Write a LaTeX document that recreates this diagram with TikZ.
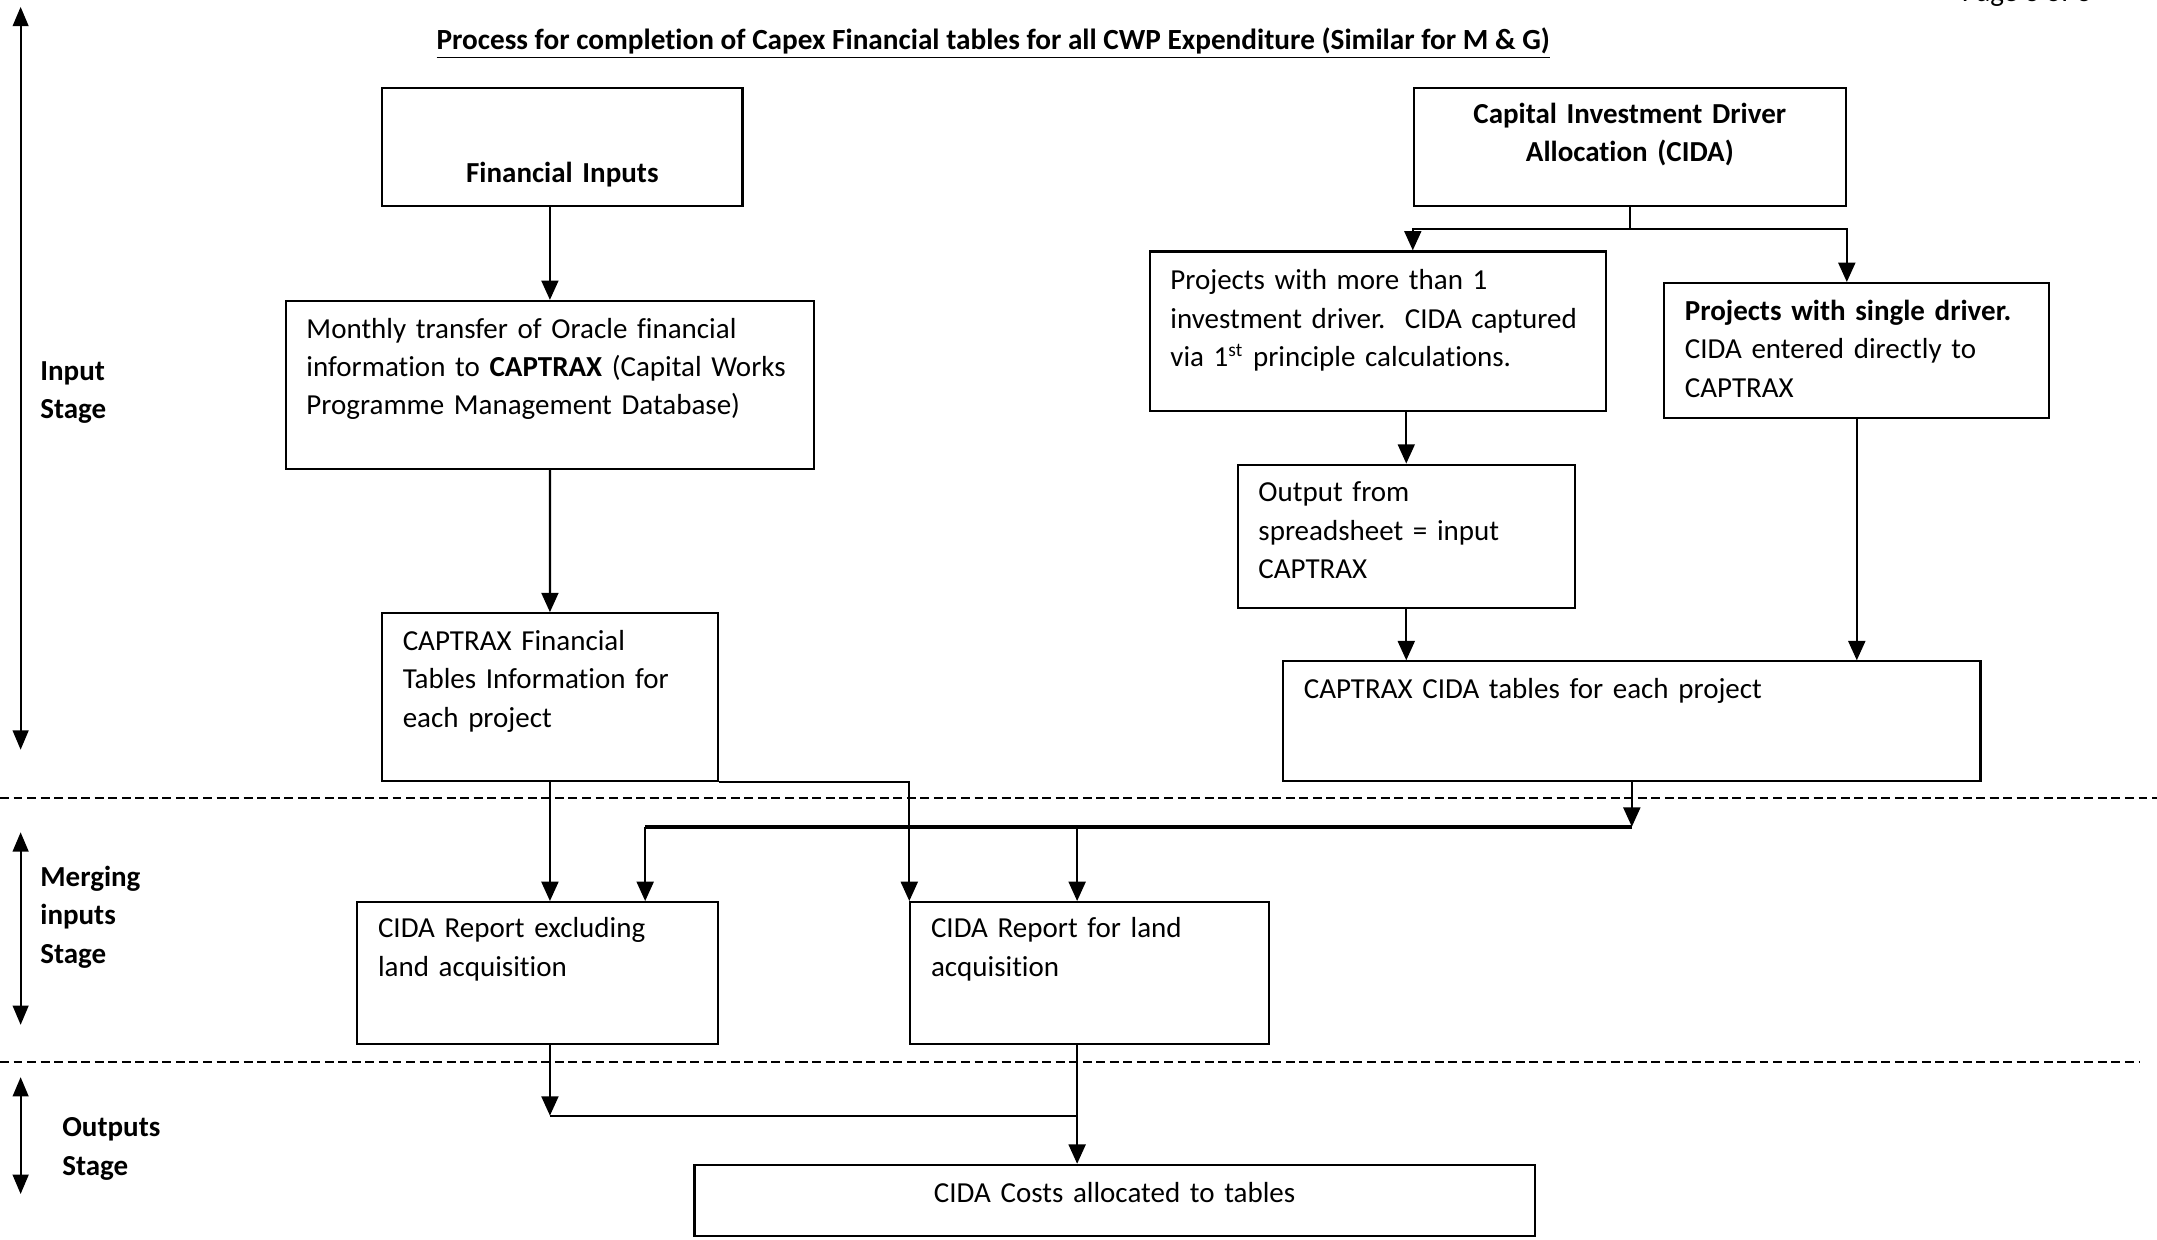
\documentclass[tikz,border=0pt]{standalone}
\usepackage{fontspec}
\setmainfont[Ligatures=NoCommon]{Carlito}
\usepackage{tikz}
\usetikzlibrary{calc}
\usetikzlibrary{arrows.meta}
\usetikzlibrary{positioning}

\tikzset{
    txt/.style={font=\fontsize{12}{15.9}\selectfont},
    box/.style={txt, draw, line width=0.9pt, anchor=north west, align=left, inner ysep=0pt, inner xsep=0.3cm},
    cbox/.style={box, align=center, inner xsep=0pt},
    stagelbl/.style={txt, font=\fontsize{12}{15.9}\selectfont\bfseries, anchor=north west, align=left, inner sep=0pt, text width=2.5cm, text height=0pt},
    arr/.style={-{Triangle[length=8pt,width=7pt]}, line width=0.9pt},
    stagearr/.style={{Triangle[length=8pt,width=6.5pt]}-{Triangle[length=8pt,width=6.5pt]}, line width=0.9pt},
    sep/.style={line width=0.85pt, dash pattern=on 3.7pt off 1.9pt},
    busline/.style={line width=1.8pt},
}

\begin{document}
\begin{tikzpicture}[x=0.02cm, y=-0.02cm]
    \useasboundingbox (0,0) rectangle (1568,901.4);

    \node[txt, anchor=base west] (page) at (1420,1) {Page 3 of 3};
    \node[txt, anchor=base, font=\fontsize{12.1}{15.9}\selectfont\bfseries] (title) at (722,36)
        {\underline{Process for completion of Capex Financial tables for all CWP Expenditure (Similar for M \& G)}};

    % input stage
    \node[cbox, text width=5.24cm, text height=1.38cm, text depth=0.34cm] (fin) at (277,63) {\textbf{Financial Inputs}};
    \node[cbox, text width=6.28cm, text height=0.52cm, text depth=1.20cm] (cida) at (1027,63)
        {\textbf{Capital Investment Driver}\\ \textbf{Allocation (CIDA)}};
    \node[box, text width=7.08cm, text height=0.54cm, text depth=1.90cm] (oracle) at (207,218)
        {Monthly transfer of Oracle financial\\ information to \textbf{CAPTRAX} (Capital Works\\ Programme Management Database)};
    \node[box, text width=4.28cm, text height=0.54cm, text depth=1.90cm] (captfin) at (277,445)
        {CAPTRAX Financial\\ Tables Information for\\ each project};
    \node[box, text width=6.04cm, text height=0.56cm, text depth=1.76cm] (multi) at (835,182)
        {Projects with more than 1\\ investment driver.\ \ CIDA captured\\ via 1\textsuperscript{st} principle calculations.};
    \node[box, text width=5.00cm, text height=0.54cm, text depth=1.42cm] (single) at (1209,205)
        {\textbf{Projects with single driver.}\\ CIDA entered directly to\\ CAPTRAX};
    \node[box, text width=4.30cm, text height=0.54cm, text depth=1.54cm] (output) at (899,337)
        {Output from\\ spreadsheet = input\\ CAPTRAX};
    \node[box, text width=9.54cm, text height=0.54cm, text depth=1.20cm] (captcida) at (932,480)
        {CAPTRAX CIDA tables for each project};

    % merging and outputs
    \node[box, text width=4.64cm, text height=0.52cm, text depth=1.54cm] (excl) at (259,655)
        {CIDA Report excluding\\ land acquisition};
    \node[box, text width=4.62cm, text height=0.52cm, text depth=1.54cm] (land) at (661,655)
        {CIDA Report for land\\ acquisition};
    \node[cbox, text width=12.22cm, text height=0.54cm, text depth=0.50cm] (costs) at (504,846)
        {CIDA Costs allocated to tables};

    % stages
    \node[stagelbl] (instage) at (29,276) {Input\\ Stage};
    \node[stagelbl] (mgstage) at (29,644) {Merging\\ inputs\\ Stage};
    \node[stagelbl] (outstage) at (45,826) {Outputs\\ Stage};

    \coordinate (inTop) at (15,5);
    \coordinate (inBot) at (15,545);
    \coordinate (mgTop) at (15,605);
    \coordinate (mgBot) at (15,745);
    \coordinate (outTop) at (15,783);
    \coordinate (outBot) at (15,868);
    \draw [stagearr] (inTop) -- (inBot);
    \draw [stagearr] (mgTop) -- (mgBot);
    \draw [stagearr] (outTop) -- (outBot);

    \coordinate (sepAl) at (0,580);
    \coordinate (sepAr) at (1568,580);
    \coordinate (sepBl) at (0,772);
    \coordinate (sepBr) at (1555,772);
    \draw [sep] (sepAl) -- (sepAr);
    \draw [sep] (sepBl) -- (sepBr);

    % connectors
    \draw [arr] (oracle.north |- fin.south) to (oracle.north);
    \draw [arr] (oracle.south) to (captfin.north);
    \coordinate (split) at ($(cida.south)+(0,16)$);
    \draw [line width=0.9pt] (cida.south) -- (split);
    \draw [arr] (split) -| (cida.west |- multi.north);
    \draw [arr] (split) -| (cida.east |- single.north);
    \draw [arr] (output.north |- multi.south) to (output.north);
    \draw [arr] (output.south) to (output.south |- captcida.north);
    \draw [arr] (single.south) to (single.south |- captcida.north);

    \coordinate (busL) at (469,601);
    \coordinate (busM) at (783,601);
    \draw [arr] (captcida.south) -- (busL -| captcida.south);
    \draw [busline] (busL) -- (busL -| captcida.south);
    \draw [arr] (busL) -- (busL |- excl.north);
    \draw [arr] (busM) -- (busM |- land.north);

    \draw [arr] (captfin.south) to (captfin.south |- excl.north);
    \draw [arr] (captfin.south east) -| (land.north west);

    \coordinate (join) at (783,811);
    \draw [arr] (captfin.south |- excl.south) -- (captfin.south |- join);
    \draw [line width=0.9pt] (captfin.south |- join) -- (join);
    \draw [arr] (join |- land.south) -- (join |- costs.north);
\end{tikzpicture}
\end{document}
